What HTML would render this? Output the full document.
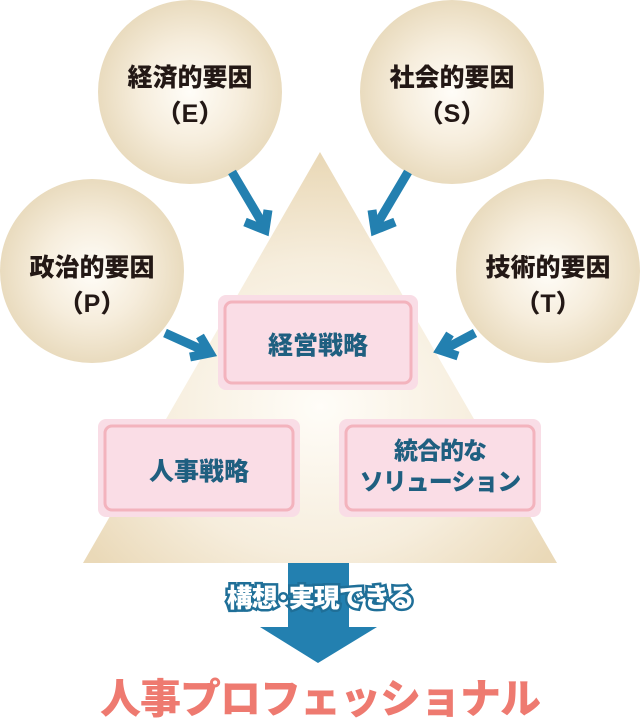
<!DOCTYPE html>
<html><head><meta charset="utf-8"><style>
body{margin:0;width:640px;height:715px;background:#fff;position:relative;overflow:hidden;font-family:"Liberation Sans","Noto Sans CJK JP",sans-serif;font-weight:900}
.t{position:absolute;text-align:center;white-space:nowrap}
</style></head><body>
<svg width="640" height="715" style="position:absolute;left:0;top:0">
<defs>
<radialGradient id="c" cx="50%" cy="50%" r="50%"><stop offset="0" stop-color="#fffdf8"/><stop offset="0.55" stop-color="#f6eddc"/><stop offset="1" stop-color="#e9dbbe"/></radialGradient>
<radialGradient id="tr" cx="50%" cy="62%" r="60%"><stop offset="0" stop-color="#fffdf8"/><stop offset="0.6" stop-color="#f6eddc"/><stop offset="1" stop-color="#ead9b8"/></radialGradient>
</defs>
<polygon points="320,152 557,563 83,563" fill="url(#tr)"/>
<circle cx="190" cy="92" r="92" fill="url(#c)"/>
<circle cx="452" cy="92" r="92" fill="url(#c)"/>
<circle cx="92" cy="271" r="92" fill="url(#c)"/>
<circle cx="548" cy="271" r="92" fill="url(#c)"/>
<g stroke="#2380b0" stroke-width="9" fill="none" stroke-linejoin="miter">
<line x1="232" y1="172" x2="264" y2="226"/><polyline points="245,222 265,230 268,210"/>
<line x1="408" y1="172" x2="376" y2="226"/><polyline points="395,222 375,230 372,210"/>
<line x1="165" y1="333" x2="207" y2="352"/><polyline points="190,357 210,353 200,336"/>
<line x1="475" y1="333" x2="443" y2="350"/><polyline points="458,356 440,350 450,334"/>
</g>
<g>
<rect x="218" y="295" width="200" height="95" rx="8" fill="#f9dde6"/>
<rect x="225" y="302" width="186" height="81" rx="7" fill="#fadde6" stroke="#f3b3bd" stroke-width="3"/>
<rect x="98" y="419" width="202" height="98" rx="8" fill="#f9dde6"/>
<rect x="105" y="426" width="188" height="84" rx="7" fill="#fadde6" stroke="#f3b3bd" stroke-width="3"/>
<rect x="339" y="419" width="202" height="98" rx="8" fill="#f9dde6"/>
<rect x="346" y="426" width="188" height="84" rx="7" fill="#fadde6" stroke="#f3b3bd" stroke-width="3"/>
</g>
<polygon points="288,563 349,563 349,627 377,627 318,663 260,627 288,627" fill="#2380b0"/>
</svg>
<div class="t" style="left:90px;top:60px;width:200px;font-size:25px;line-height:36px;color:#231815">経済的要因<br>（E）</div>
<div class="t" style="left:352px;top:60px;width:200px;font-size:25px;line-height:36px;color:#231815">社会的要因<br>（S）</div>
<div class="t" style="left:-8px;top:250px;width:200px;font-size:25px;line-height:36px;color:#231815">政治的要因<br>（P）</div>
<div class="t" style="left:448px;top:250px;width:200px;font-size:25px;line-height:36px;color:#231815">技術的要因<br>（T）</div>
<div class="t" style="left:218px;top:326px;width:200px;font-size:25px;color:#1f5f80">経営戦略</div>
<div class="t" style="left:98px;top:452px;width:202px;font-size:25px;color:#1f5f80">人事戦略</div>
<div class="t" style="left:339px;top:436px;width:202px;font-size:24px;line-height:31px;color:#1f5f80;letter-spacing:-1px">統合的な<br>ソリューション</div>
<div class="t" style="left:160px;top:578px;width:320px;font-size:26px;color:#fff;-webkit-text-stroke:5px #1f6f98;paint-order:stroke fill;letter-spacing:-1px">構想･実現できる</div>
<div class="t" style="left:0;top:665px;width:640px;font-size:41px;color:#ee7a70;letter-spacing:-1px">人事プロフェッショナル</div>
</body></html>
